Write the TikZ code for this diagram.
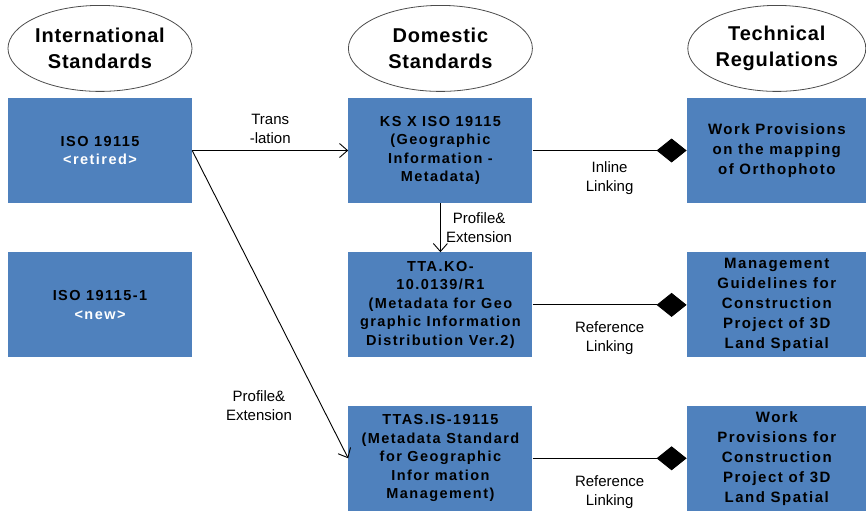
\documentclass[tikz,border=0pt]{standalone}
\usepackage{fontspec}
\setmainfont{Liberation Sans}
\newfontfamily\boxfont{Liberation Sans}[LetterSpace=10]
\newfontfamily\headfont{Liberation Sans}[LetterSpace=4]
\usetikzlibrary{positioning,arrows.meta,shapes.geometric}
\definecolor{boxblue}{RGB}{79,129,189}

\begin{document}
\begin{tikzpicture}[x=1pt, y=-1pt,
  every node/.style={font=\fontsize{15}{19}\selectfont, align=center},
  box/.style={fill=boxblue, minimum width=184pt, minimum height=105pt, inner sep=2pt, font=\boxfont\bfseries\fontsize{14.5}{18.5}\selectfont},
  reg/.style={box, minimum width=180pt, font=\boxfont\bfseries\fontsize{15}{20}\selectfont},
  head/.style={ellipse, draw=black!70, line width=0.8pt, inner sep=0pt, minimum width=184pt, minimum height=86pt, font=\headfont\bfseries\fontsize{20}{26}\selectfont},
  arr/.style={-{Straight Barb[length=8pt,width=14pt]}, line width=0.9pt},
  link/.style={-{Diamond[length=30pt,width=24pt]}, line width=0.9pt}
]
\useasboundingbox (0,0) rectangle (866,514);

% Left Column: International Standards
\node[box] (iso) at (100,150.5) {ISO 19115\\ \textcolor{white}{<retired>}};
\node[box, below=49pt of iso] (isonew) {ISO 19115-1\\ \textcolor{white}{<new>}};
\node[head, above=6pt of iso] (intl) {International\\Standards};

% Middle Column: Domestic Standards
\node[box, right=156pt of iso] (ksx) {KS X ISO 19115\\(Geographic\\Information -\\Metadata)};
\node[box, below=49pt of ksx] (ttako) {TTA.KO-\\10.0139/R1\\(Metadata for Geo\\graphic Information\\Distribution Ver.2)};
\node[box, below=48pt of ttako] (ttas) {TTAS.IS-19115\\(Metadata Standard\\for Geographic\\Infor mation\\Management)};
\node[head, above=6pt of ksx] (dom) {Domestic\\Standards};

% Right Column: Technical Regulations
\node[reg, right=154pt of ksx] (work) {Work Provisions\\on the mapping\\of Orthophoto};
\node[reg, right=154pt of ttako] (guide) {Management\\Guidelines for\\Construction\\Project of 3D\\Land Spatial};
\node[reg, right=154pt of ttas] (workcon) {Work\\Provisions for\\Construction\\Project of 3D\\Land Spatial};
\node[head, minimum width=178pt, above=6pt of work] (tech) {Technical\\Regulations};

% Derivation Arrows
\draw[arr] (iso.east) -- node[above=3pt]{Trans\\-lation} (ksx.west);
\draw[arr] (iso.east) -- node[pos=0.83, left=26pt]{Profile\&\\Extension} (ttas.west);
\draw[arr] (ksx) -- node[right=2pt]{Profile\&\\Extension} (ttako);

% Linking to Regulations
\draw[link] (ksx) -- node[below=7pt]{Inline\\Linking} (work);
\draw[link] (ttako) -- node[below=13pt]{Reference\\Linking} (guide);
\draw[link] (ttas) -- node[below=14pt]{Reference\\Linking} (workcon);
\end{tikzpicture}
\end{document}
